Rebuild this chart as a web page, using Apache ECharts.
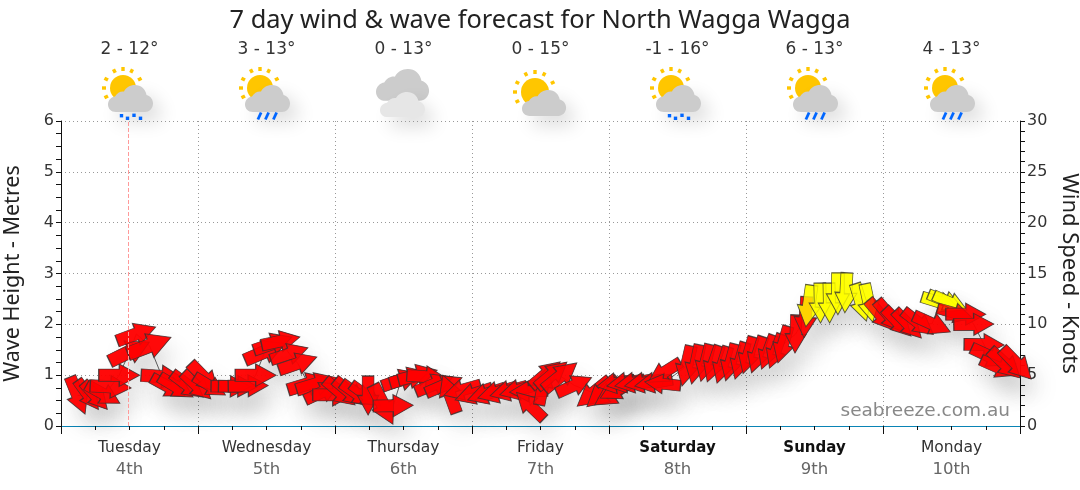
<!DOCTYPE html>
<html>
<head>
<meta charset="utf-8">
<style>html,body{margin:0;padding:0;background:#fff}#c{width:1080px;height:490px}</style>
<script src="https://cdn.jsdelivr.net/npm/echarts@6/dist/echarts.min.js"></script>
</head>
<body>
<div id="c"></div>
<script>
const dayNames = ['Tuesday','Wednesday','Thursday','Friday','Saturday','Sunday','Monday'];
const dayDates = ['4th','5th','6th','7th','8th','9th','10th'];
const boldDays = ['Saturday','Sunday'];
const tempRanges = ['2 - 12°','3 - 13°','0 - 13°','0 - 15°','-1 - 16°','6 - 13°','4 - 13°'];
const iconKinds = ['hail','rain','cloud','sun','hail','rain','rain'];
const nowHour = [11.7];
const yellowFrom = [11.5];

const windHours = [
2.9,4.7,6.0,7.4,8.7,10.2,12.0,13.2,15.5,17.7,
18.8,20.2,22.2,23.8,25.1,26.1,29.7,31.0,32.8,34.1,
35.7,37.1,38.5,40.0,41.5,43.3,44.8,45.8,47.6,48.9,
50.6,51.9,53.4,53.8,56.4,58.2,59.6,61.0,62.5,64.0,
65.4,67.1,68.1,70.3,72.3,74.5,76.4,78.4,80.1,81.9,
82.2,84.4,84.9,86.0,87.5,89.9,93.3,94.9,96.6,97.6,
97.1,98.9,100.3,102.0,103.8,105.7,105.4,
109.6,111.2,112.9,114.3,115.9,117.3,119.0,120.4,122.0,123.8,125.2,126.5,128.7,130.4,
131.0,133.0,134.6,136.1,137.5,140.1,141.5,143.6,145.2,146.6,148.4,150.2,152.6,
154.0,154.9,155.8,156.6,158.5,159.9,161.7,162.7,164.2,165.4,167.4];
const windKnots = [
3.0,3.05,2.95,3.15,3.85,5.0,7.3,9.05,7.9,4.85,
3.85,3.85,4.0,3.95,4.75,3.95,3.9,3.9,3.95,5.0,
7.3,8.1,8.35,7.1,6.15,4.15,4.15,3.35,3.05,3.3,
3.3,3.15,3.05,3.0,2.1,2.0,4.55,4.75,5.0,4.85,
4.1,4.0,3.15,3.55,3.15,3.15,3.3,3.45,3.55,3.4,
2.0,3.9,5.1,5.05,4.9,4.0,3.25,3.25,3.2,3.65,
4.2,4.25,4.25,4.25,4.25,5.3,4.15,
5.9,6.05,6.2,6.1,6.0,6.25,6.4,6.95,7.0,7.25,7.35,8.0,9.05,10.7,
11.8,12.1,12.1,13.0,13.1,12.15,12.1,10.9,10.8,10.2,10.0,10.15,10.05,
12.15,12.3,12.15,11.1,11.0,10.0,8.0,6.85,5.75,6.1,6.1];
const windHeading = [
-68,-54,-48,-29,-3,0,26,20,21,-4,
-29,-31,-37,-43,-46,-31,-1,-1,1,0,
23,19,12,18,19,17,17,25,0,-40,
-40,-35,-36,-90,-63,1,19,16,14,-4,
22,23,110,196,198,198,196,195,195,182,
136,79,40,40,39,24,219,221,213,207,
190,190,190,190,190,212,174,
257,258,256,251,253,255,254,254,252,250,250,254,268,266,
262,271,271,270,267,287,282,-50,-50,-46,-46,-38,-24,
-17,-22,-24,-16,0,1,-1,-25,-24,-43,-46];
const arrowLength = [
40,36,36,38,41,41,44,41,46,42,
38,39,39,38,40,36,39,39,40,41,
43,40,39,39,40,42,42,38,40,39,
39,38,36,39,44,40,40,40,40,39,
40,39,40,38,39,39,40,38,38,38,
38,38,38,39,42,38,42,42,42,40,
38,38,38,38,38,38,36,
41,40,38,38,38,38,38,38,38,36,36,38,38,41,
42,40,40,42,40,39,39,39,40,38,38,38,40,
38,36,36,36,40,40,40,40,38,41,42];

const FONT = '"Noto Sans", Tahoma, sans-serif';
const LABEL = '"DejaVu Sans", Verdana, sans-serif';
const ARROW = 'path://M0 5H20V0L40 11L20 22V17H0Z';
const points = windHours.map((h,i)=>[h,windKnots[i],windHeading[i],arrowLength[i]]);
const arrowColor = p => p.value[1] >= yellowFrom[0] ? '#ffff00' : '#ff0000';

const CLOUD = 'M8 27C3 27 0 23.5 0 19.5C0 15 3.5 12 7 11.5C9 8 12.5 6 16 6.5C18 2.5 22 0 27 0C33 0 37.5 4 38.5 10C42.5 11 45 14.5 45 18.5C45 23.5 41 27 37 27Z';
echarts.graphic.registerShape('cloudIcon', echarts.graphic.extendPath(CLOUD));
const shade = {shadowBlur:18, shadowOffsetX:9, shadowOffsetY:10, shadowColor:'rgba(0,0,0,0.13)'};
function cloud(x,y,sx,sy,fill,withShade){
  return {type:'cloudIcon', x, y, scaleX:sx, scaleY:sy,
    style:Object.assign({fill}, withShade?shade:{})};
}
function sun(cx,cy,r,rr){
  const out=[{type:'circle',shape:{cx,cy,r},style:{fill:'#ffc600'}}];
  [0,27,-27,62,-62,-90,-118].forEach(a=>{
    const t=a*Math.PI/180;
    out.push({type:'rect',x:cx+rr*Math.sin(t),y:cy-rr*Math.cos(t),rotation:-t,
      shape:{x:-1.7,y:-2,width:3.4,height:4},style:{fill:'#ffc600'}});
  });
  return out;
}
function icon(kind,c){
  let kids=[];
  if(kind==='cloud'){
    kids.push(cloud(-27.5,69,1.18,1.18,'#cccccc',false));
    kids.push(cloud(-23.5,92,1,0.93,'#e6e6e6',true));
  } else if(kind==='sun'){
    kids=kids.concat(sun(-5.5,92,14,20));
    kids.push(cloud(-18.5,90,0.98,0.96,'#cccccc',true));
  } else {
    kids=kids.concat(sun(-6.5,88,13,19));
    kids.push(cloud(-21.5,85,1,1,'#cccccc',true));
    if(kind==='hail'){
      [[-8,115.7],[-2,118.3],[4.5,115.3],[11,118.3]].forEach(p=>
        kids.push({type:'rect',shape:{x:p[0]-1.7,y:p[1]-1.7,width:3.4,height:3.4},style:{fill:'#0066ff'}}));
    } else {
      [-7,0.5,8.5].forEach(x=>
        kids.push({type:'line',shape:{x1:x+1.6,y1:112.5,x2:x-1.6,y2:119.5},style:{stroke:'#0066ff',lineWidth:2.8}}));
    }
  }
  return {type:'group',x:c,y:0,children:kids};
}

const dayCentre = i => 129.5 + 137*i;
const graphics = [];
iconKinds.forEach((k,i)=>graphics.push(icon(k,dayCentre(i))));
tempRanges.forEach((t,i)=>graphics.push({type:'text',x:dayCentre(i),y:50,
  style:{text:t,font:'17px '+LABEL,fill:'#333',textAlign:'center',textVerticalAlign:'middle'}}));
graphics.push({type:'text',x:1010,y:411,z:10,
  style:{text:'seabreeze.com.au',font:'18.5px '+LABEL,fill:'#888888',textAlign:'right',textVerticalAlign:'middle'}});

const chart = echarts.init(document.getElementById('c'),null,{renderer:'canvas'});
const rich = {
  day:{fontSize:15.5,color:'#333',fontFamily:LABEL,lineHeight:22,align:'center'},
  bold:{fontSize:15,color:'#111',fontWeight:'bold',fontFamily:LABEL,lineHeight:22,align:'center'},
  date:{fontSize:16.5,color:'#666',fontFamily:LABEL,lineHeight:22,align:'center'}
};
chart.setOption({
  animation:false,
  backgroundColor:'#fff',
  title:{text:'7 day wind & wave forecast for North Wagga Wagga',left:'center',top:3,
    textStyle:{fontSize:25.4,fontWeight:'normal',color:'#222',fontFamily:FONT}},
  grid:{left:61,right:60,top:121,bottom:64,containLabel:false,outerBoundsMode:'none'},
  xAxis:[
    {type:'value',min:0,max:168,interval:24,
      axisLine:{show:true,onZero:false,lineStyle:{color:'#0a84b5',width:1.2}},
      axisTick:{show:true,length:8,lineStyle:{color:'#111'}},
      minorTick:{show:true,splitNumber:4,length:4,lineStyle:{color:'#111'}},
      splitLine:{show:true,lineStyle:{type:[1,3],color:'#999'}},
      axisLabel:{show:false}},
    {type:'category',data:dayNames,position:'bottom',boundaryGap:true,
      axisLine:{show:false},axisTick:{show:false},splitLine:{show:false},
      axisLabel:{show:true,interval:0,margin:11,rich,
        formatter:(v,i)=>`{${boldDays.includes(v)?'bold':'day'}|${v}}\n{date|${dayDates[i]}}`}}
  ],
  yAxis:[
    {type:'value',min:0,max:6,interval:1,position:'left',
      name:'Wave Height - Metres',nameLocation:'middle',nameGap:37,nameRotate:90,
      nameTextStyle:{fontSize:21.5,color:'#222',fontFamily:FONT},
      axisLine:{show:true,lineStyle:{color:'#111'}},
      axisTick:{show:true,length:5,lineStyle:{color:'#111'}},
      minorTick:{show:true,splitNumber:4,length:5,lineStyle:{color:'#111'}},
      splitLine:{show:true,lineStyle:{type:[1,3],color:'#999'}},
      axisLabel:{fontSize:16,color:'#333',fontFamily:LABEL,margin:7}},
    {type:'value',min:0,max:30,interval:5,position:'right',
      name:'Wind Speed - Knots',nameLocation:'middle',nameGap:36,nameRotate:-90,
      nameTextStyle:{fontSize:22,color:'#222',fontFamily:FONT},
      axisLine:{show:true,lineStyle:{color:'#111'}},
      axisTick:{show:true,length:5,lineStyle:{color:'#111'}},
      minorTick:{show:true,splitNumber:5,length:5,lineStyle:{color:'#111'}},
      splitLine:{show:false},
      axisLabel:{fontSize:16,color:'#333',fontFamily:LABEL,margin:7}}
  ],
  series:[
    {type:'line',xAxisIndex:0,yAxisIndex:1,z:2,silent:true,symbol:'none',clip:false,
      data:points.map(p=>[p[0],p[1]]),lineStyle:{color:'#666',width:1},
      markLine:{silent:true,symbol:'none',label:{show:false},
        lineStyle:{color:'#ff9a9a',type:'dashed',width:1},
        data:[{xAxis:nowHour[0]}]}},
    {type:'scatter',xAxisIndex:0,yAxisIndex:1,z:3,silent:true,clip:false,
      symbol:ARROW,data:points,
      symbolSize:v=>[v[3],v[3]*0.55],symbolRotate:v=>v[2],
      itemStyle:{color:arrowColor,shadowBlur:24,shadowOffsetX:8,shadowOffsetY:16,shadowColor:'rgba(0,0,0,0.17)'}},
    {type:'scatter',xAxisIndex:0,yAxisIndex:1,z:4,silent:true,clip:false,
      symbol:ARROW,data:points,
      symbolSize:v=>[v[3],v[3]*0.55],symbolRotate:v=>v[2],
      itemStyle:{color:arrowColor,borderColor:'#333',borderWidth:1}}
  ],
  graphic:graphics
});
</script>
</body>
</html>
